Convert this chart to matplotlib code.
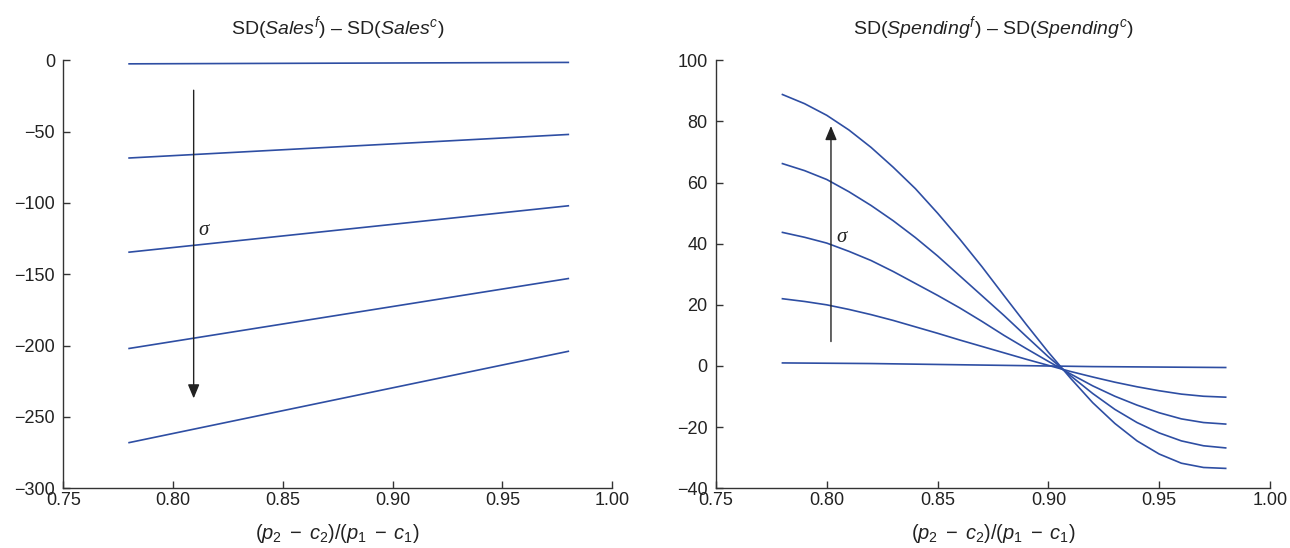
import numpy as np
import matplotlib
matplotlib.use("Agg")
import matplotlib.pyplot as plt

plt.rcParams["font.family"] = ["Liberation Sans", "DejaVu Sans"]
plt.rcParams["mathtext.fontset"] = "custom"
plt.rcParams["mathtext.rm"] = "Liberation Sans"
plt.rcParams["mathtext.it"] = "Liberation Sans:italic"
plt.rcParams["axes.unicode_minus"] = True

LINE_COLOR = "#2e4ea3"
AXIS_COLOR = "#333333"
TEXT_COLOR = "#222222"

# left panel: difference in sales volatility, one line per sigma
sales_x = [0.78, 0.98]
sales_lines = [
    [-2.5, -1.5],
    [-68.5, -52.0],
    [-134.5, -102.0],
    [-202.0, -153.0],
    [-268.0, -204.0],
]

# right panel: difference in spending volatility
spend_x = [0.78, 0.79, 0.80, 0.81, 0.82, 0.83, 0.84, 0.85, 0.86, 0.87, 0.88,
           0.89, 0.90, 0.91, 0.92, 0.93, 0.94, 0.95, 0.96, 0.97, 0.98]
spend_lines = [
    [1.0, 0.95, 0.9, 0.85, 0.8, 0.7, 0.6, 0.5, 0.4, 0.3, 0.2,
     0.1, 0.0, -0.1, -0.2, -0.25, -0.3, -0.35, -0.4, -0.45, -0.5],
    [22.0, 21.1, 20.0, 18.5, 16.8, 14.9, 12.8, 10.7, 8.5, 6.4, 4.3,
     2.2, 0.2, -1.8, -3.6, -5.3, -6.8, -8.1, -9.2, -9.9, -10.2],
    [43.7, 42.1, 40.2, 37.5, 34.5, 30.9, 27.0, 23.1, 19.0, 14.6, 10.0,
     5.7, 1.5, -2.6, -6.5, -9.9, -12.8, -15.3, -17.3, -18.5, -19.0],
    [66.2, 63.9, 61.0, 57.0, 52.5, 47.5, 42.0, 36.0, 29.5, 23.0, 16.5,
     9.7, 3.0, -3.2, -9.0, -14.2, -18.5, -21.9, -24.5, -26.1, -26.8],
    [88.8, 85.8, 82.0, 77.2, 71.5, 65.0, 58.0, 50.0, 41.5, 32.5, 23.0,
     13.6, 4.5, -4.0, -12.0, -18.8, -24.5, -28.8, -31.8, -33.2, -33.5],
]

x_ticks = [0.75, 0.80, 0.85, 0.90, 0.95, 1.00]
sales_yticks = [0, -50, -100, -150, -200, -250, -300]
spend_yticks = [100, 80, 60, 40, 20, 0, -20, -40]


def style_axes(ax, yticks):
    ax.spines["top"].set_visible(False)
    ax.spines["right"].set_visible(False)
    for side in ("left", "bottom"):
        ax.spines[side].set_color(AXIS_COLOR)
        ax.spines[side].set_linewidth(1.0)
    ax.set_xlim(0.75, 1.00)
    ax.set_ylim(min(yticks), max(yticks))
    ax.set_xticks(x_ticks)
    ax.set_xticklabels([f"{t:.2f}" for t in x_ticks])
    ax.set_yticks(yticks)
    ax.tick_params(direction="in", length=5, width=1.0, color=AXIS_COLOR,
                   labelsize=13, labelcolor=TEXT_COLOR)
    ax.tick_params(axis="x", pad=3)
    ax.tick_params(axis="y", pad=6)
    ax.set_xlabel(r"$(p_2\;-\;c_2)/(p_1\;-\;c_1)$", fontsize=14.5, labelpad=9,
                  color=TEXT_COLOR)


fig = plt.figure(figsize=(12.9, 5.48), dpi=100)
ax1 = fig.add_axes([0.049, 0.109, 0.4256, 0.781])
ax2 = fig.add_axes([0.555, 0.109, 0.4295, 0.781])

for ys in sales_lines:
    ax1.plot(sales_x, ys, color=LINE_COLOR, lw=1.2)
style_axes(ax1, sales_yticks)
ax1.set_title(r"SD($\mathit{Sales}^{f}$) – SD($\mathit{Sales}^{c}$)",
              fontsize=14, pad=19, color=TEXT_COLOR)
ax1.annotate("", xy=(0.8094, -237), xytext=(0.8094, -21),
             arrowprops=dict(arrowstyle="-|>,head_length=0.6,head_width=0.25",
                             color=TEXT_COLOR, lw=1.0, mutation_scale=14,
                             shrinkA=0, shrinkB=0))
ax1.text(0.8115, -119, "σ", family="Liberation Serif", style="italic",
         fontsize=15, ha="left", va="center", color=TEXT_COLOR)

for ys in spend_lines:
    ax2.plot(spend_x, ys, color=LINE_COLOR, lw=1.2)
style_axes(ax2, spend_yticks)
ax2.set_title(r"SD($\mathit{Spending}^{f}$) – SD($\mathit{Spending}^{c}$)",
              fontsize=14, pad=19, color=TEXT_COLOR)
ax2.annotate("", xy=(0.8019, 78.5), xytext=(0.8019, 8),
             arrowprops=dict(arrowstyle="-|>,head_length=0.6,head_width=0.25",
                             color=TEXT_COLOR, lw=1.0, mutation_scale=14,
                             shrinkA=0, shrinkB=0))
ax2.text(0.8045, 42, "σ", family="Liberation Serif", style="italic",
         fontsize=15, ha="left", va="center", color=TEXT_COLOR)

fig.savefig("out.png", dpi=100)
